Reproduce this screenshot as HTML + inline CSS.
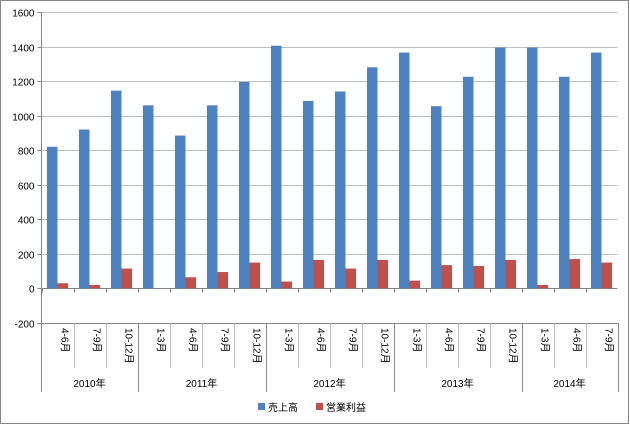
<!DOCTYPE html>
<html><head><meta charset="utf-8"><style>
html,body{margin:0;padding:0;background:#fff}
svg{display:block;font-family:"Liberation Sans","Noto Sans CJK JP",sans-serif}
</style></head><body>
<svg id="c" width="630" height="425">
<rect x="0.5" y="0.5" width="628" height="423" fill="#fff" stroke="#868686"/>
</svg>
<script>
const categories=["4-6月","7-9月","10-12月","1-3月","4-6月","7-9月","10-12月","1-3月","4-6月","7-9月","10-12月","1-3月","4-6月","7-9月","10-12月","1-3月","4-6月","7-9月"];
const years=["2010年","2011年","2012年","2013年","2014年"];
const yearCounts=[3,4,4,4,3];
const sales=[820,920,1145,1060,885,1060,1195,1405,1085,1140,1280,1365,1055,1225,1395,1395,1225,1365];
const profit=[30,20,115,0,65,95,150,40,165,115,165,45,135,130,165,20,170,150];
const yTicks=[-200,0,200,400,600,800,1000,1200,1400,1600];
const seriesNames=["売上高","営業利益"];

const svg=document.getElementById('c');
const NS='http://www.w3.org/2000/svg';
const L=41.5,R=617.5,T=12,B=323,yMin=-200,yMax=1600;
const y=v=>B-(v-yMin)/(yMax-yMin)*(B-T);
const cw=(R-L)/categories.length;
const x=i=>L+i*cw;
function mk(tag,attrs,name,text){const e=document.createElementNS(NS,tag);for(const k in attrs)e.setAttribute(k,attrs[k]);


if(text!==undefined)e.textContent=text;svg.appendChild(e);return e;}
yTicks.forEach(t=>{const yy=Math.round(y(t))+0.5;
mk('line',{x1:L,x2:R,y1:yy,y2:yy,stroke:t===0||t===yMin?'#868686':'#bfbfbf'},'gridline-'+t);
mk('line',{x1:L-4,x2:L,y1:yy,y2:yy,stroke:'#868686'},'y-tick-'+t);
mk('text',{x:L-7,y:yy+4,'text-anchor':'end','font-size':10,fill:'#000'},'y-tick-label',String(t));});
mk('line',{x1:L,x2:L,y1:T,y2:B,stroke:'#868686'},'y-axis');
sales.forEach((v,i)=>{const x0=x(i)+cw*0.17;
mk('rect',{x:x0,y:Math.min(y(v),y(0)),width:cw*0.33,height:Math.abs(y(0)-y(v)),fill:'#4f81bd'},'bar-sales');
const p=profit[i];
mk('rect',{x:x0+cw*0.33,y:Math.min(y(p),y(0)),width:cw*0.33,height:Math.abs(y(0)-y(p)),fill:'#c0504d'},'bar-profit');});
categories.forEach((c,i)=>{const xx=Math.round(x(i))+0.5;
mk('line',{x1:xx,x2:xx,y1:y(0),y2:y(0)+4,stroke:'#868686'},'zero-tick');
const cx=x(i)+cw/2;
mk('text',{x:0,y:0,transform:`translate(${cx+4},328) rotate(90)`,'font-size':10,fill:'#000'},'category-label',c);});
let idx=0;
mk('line',{x1:L,x2:L,y1:B,y2:392,stroke:'#868686'},'year-separator');
years.forEach((yr,k)=>{const s=idx,e=idx+yearCounts[k];
for(let i=s+1;i<e;i++){const xx=Math.round(x(i))+0.5;mk('line',{x1:xx,x2:xx,y1:B,y2:368,stroke:'#bfbfbf'},'category-separator');}
const xe=Math.round(x(e))+0.5;
mk('line',{x1:xe,x2:xe,y1:B,y2:392,stroke:'#868686'},'year-separator');
mk('text',{x:(x(s)+x(e))/2,y:387,'text-anchor':'middle','font-size':10,fill:'#000'},'year-label',yr);
idx=e;});
const cols=['#4f81bd','#c0504d'];const lx=[258,316];
seriesNames.forEach((n,i)=>{mk('rect',{x:lx[i],y:403,width:7,height:7,fill:cols[i]},'legend-swatch');
mk('text',{x:lx[i]+10,y:411,'font-size':10,fill:'#000'},'legend-entry',n);});
</script>
</body></html>
